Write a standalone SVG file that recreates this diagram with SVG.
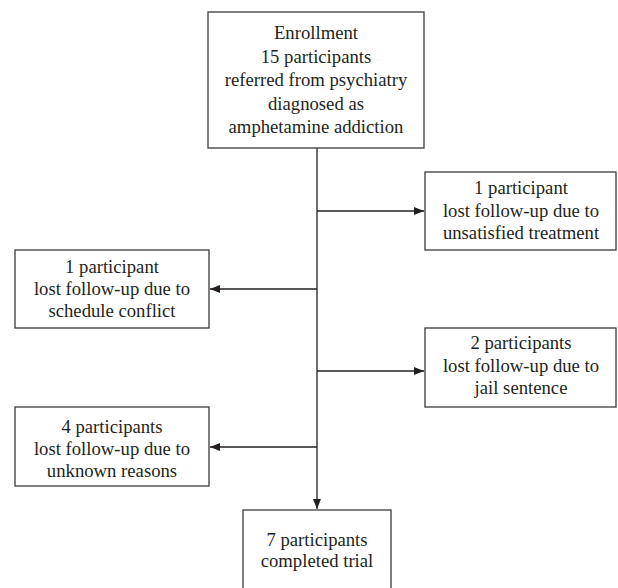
<svg xmlns="http://www.w3.org/2000/svg" width="618" height="588" viewBox="0 0 618 588">
<style>
.box{fill:#fff;stroke:#3a3a3a;stroke-width:1.3}
.t{font-family:"Liberation Serif","Times New Roman",serif;font-size:18.7px;fill:#231f20;text-anchor:middle}
.c{stroke:#231f20;stroke-width:1.3;fill:none}
</style>
<defs>
<marker id="ah" markerWidth="10" markerHeight="8" refX="10" refY="4" orient="auto" markerUnits="userSpaceOnUse">
<path d="M0,0 L10,4 L0,8 Z" fill="#231f20"/>
</marker>
</defs>
<rect width="618" height="588" fill="#fff"/>
<g id="connectors">
<line class="c" x1="317" y1="148" x2="317" y2="509" marker-end="url(#ah)"/>
<line class="c" x1="317" y1="211" x2="424" y2="211" marker-end="url(#ah)"/>
<line class="c" x1="317" y1="289" x2="210" y2="289" marker-end="url(#ah)"/>
<line class="c" x1="317" y1="371" x2="424" y2="371" marker-end="url(#ah)"/>
<line class="c" x1="317" y1="447" x2="210" y2="447" marker-end="url(#ah)"/>
</g>
<g id="enrollment">
<rect class="box" x="208" y="12" width="216" height="136"/>
<text class="t" x="316" y="39">Enrollment</text>
<text class="t" x="316" y="63">15 participants</text>
<text class="t" x="316" y="86">referred from psychiatry</text>
<text class="t" x="316" y="110">diagnosed as</text>
<text class="t" x="316" y="133">amphetamine addiction</text>
</g>
<g id="unsatisfied">
<rect class="box" x="425" y="172" width="191" height="78"/>
<text class="t" x="521" y="194">1 participant</text>
<text class="t" x="521" y="217">lost follow-up due to</text>
<text class="t" x="521" y="239">unsatisfied treatment</text>
</g>
<g id="schedule">
<rect class="box" x="15" y="250" width="194" height="78"/>
<text class="t" x="112" y="273">1 participant</text>
<text class="t" x="112" y="295">lost follow-up due to</text>
<text class="t" x="112" y="317">schedule conflict</text>
</g>
<g id="jail">
<rect class="box" x="425" y="328" width="191" height="79"/>
<text class="t" x="521" y="349">2 participants</text>
<text class="t" x="521" y="372">lost follow-up due to</text>
<text class="t" x="521" y="394">jail sentence</text>
</g>
<g id="unknown">
<rect class="box" x="15" y="407" width="194" height="79"/>
<text class="t" x="112" y="433">4 participants</text>
<text class="t" x="112" y="455">lost follow-up due to</text>
<text class="t" x="112" y="477">unknown reasons</text>
</g>
<g id="completed">
<rect class="box" x="243" y="510" width="148" height="84"/>
<text class="t" x="317" y="546">7 participants</text>
<text class="t" x="317" y="567">completed trial</text>
</g>
</svg>
